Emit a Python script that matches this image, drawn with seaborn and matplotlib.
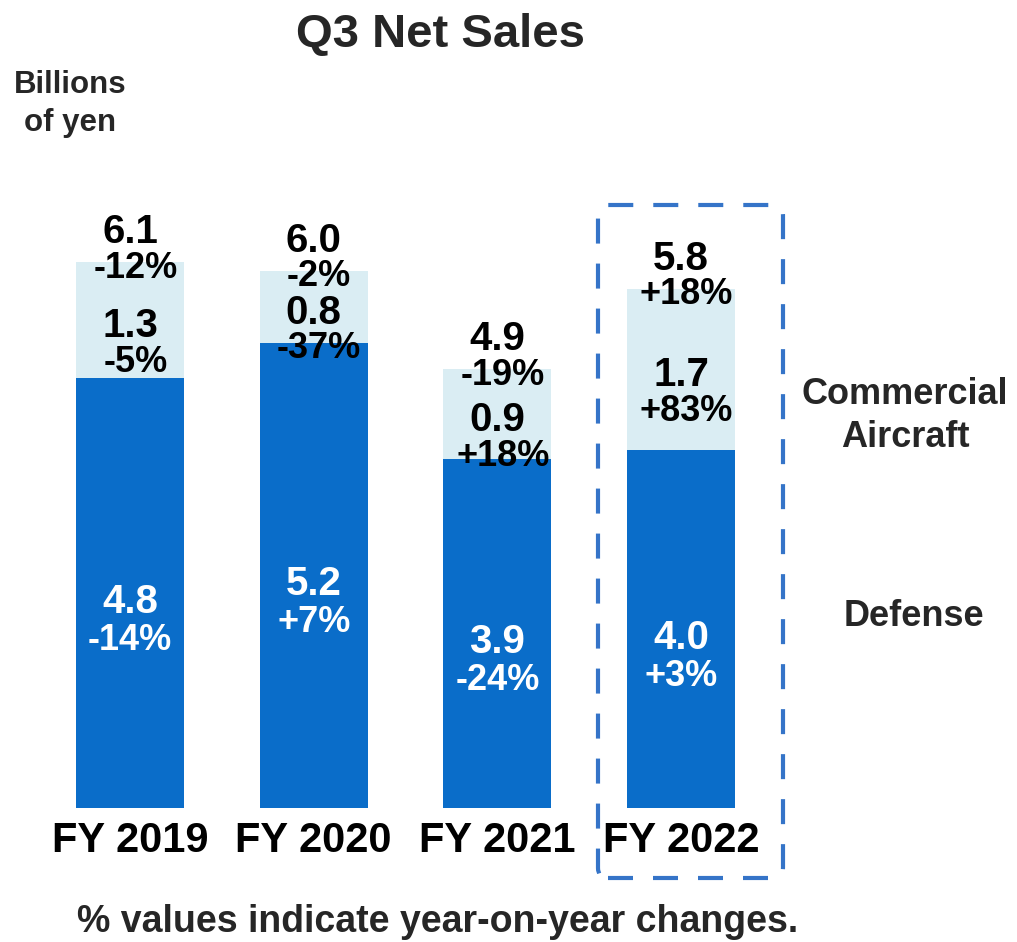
import matplotlib
matplotlib.use("Agg")
import matplotlib.pyplot as plt
from matplotlib.patches import FancyBboxPatch
import seaborn as sns
import pandas as pd

# Q3 net sales, billions of yen
years = ["FY 2019", "FY 2020", "FY 2021", "FY 2022"]
defense = [4.8, 5.2, 3.9, 4.0]
commercial = [1.3, 0.8, 0.9, 1.7]
total = [6.1, 6.0, 4.9, 5.8]
defense_yoy = ["-14%", "+7%", "-24%", "+3%"]
commercial_yoy = ["-5%", "-37%", "+18%", "+83%"]
total_yoy = ["-12%", "-2%", "-19%", "+18%"]

DARK = "#0A6DC9"
LIGHT = "#DAEDF3"
BOX = "#3574C8"
INK = "#262626"

sns.set_theme(style="white")
plt.rcParams["font.family"] = ["Liberation Sans", "DejaVu Sans"]
plt.rcParams["font.weight"] = "bold"

W, H = 1017, 942
fig = plt.figure(figsize=(W / 100, H / 100), dpi=100)

# axes: baseline 808 px from top, 89.5 px per billion yen, bar pitch ~183.7 px
base_px, unit_px, pitch_px, x0_px = 808, 89.5, 183.7, 130
ax = fig.add_axes([0, (H - base_px) / H, 1, base_px / H])

df = pd.DataFrame({"year": years, "defense": defense, "total": total})
sns.barplot(data=df, x="year", y="total", color=LIGHT, saturation=1,
            width=0.588, ax=ax, linewidth=0)
sns.barplot(data=df, x="year", y="defense", color=DARK, saturation=1,
            width=0.588, ax=ax, linewidth=0)
ax.set_xlim(-x0_px / pitch_px, (W - x0_px) / pitch_px)
ax.set_ylim(0, base_px / unit_px)
ax.axis("off")

px = 1 / unit_px  # one pixel in data units
val_fs, pct_fs = 29, 26
for i in range(len(years)):
    top = total[i]
    # total on top of the stack
    ax.text(i, top + 30 * px, f"{total[i]:.1f}", ha="center", va="center",
            fontsize=val_fs, fontweight="bold", color="black")
    ax.text(i + 0.03, top - 6 * px, total_yoy[i], ha="center", va="center",
            fontsize=pct_fs, fontweight="bold", color="black")
    # commercial aircraft segment
    mid_c = (defense[i] + total[i]) / 2
    ax.text(i, mid_c - 6 * px, f"{commercial[i]:.1f}", ha="center", va="center",
            fontsize=val_fs, fontweight="bold", color="black")
    ax.text(i + 0.03, mid_c - 42 * px, commercial_yoy[i], ha="center", va="center",
            fontsize=pct_fs, fontweight="bold", color="black")
    # defense segment
    mid_d = defense[i] / 2
    ax.text(i, mid_d - 9 * px, f"{defense[i]:.1f}", ha="center", va="center",
            fontsize=val_fs, fontweight="bold", color="white")
    ax.text(i, mid_d - 47 * px, defense_yoy[i], ha="center", va="center",
            fontsize=pct_fs, fontweight="bold", color="white")
    # category label under the bar
    ax.text(i, -33 * px, years[i], ha="center", va="center",
            fontsize=30, fontweight="bold", color="black")

def fpos(x, y):
    return x / W, 1 - y / H

fig.text(*fpos(440, 35), "Q3 Net Sales", ha="center", va="center",
         fontsize=34, fontweight="bold", color=INK)
fig.text(*fpos(70, 104), "Billions\nof yen", ha="center", va="center",
         fontsize=22.5, fontweight="bold", color=INK, linespacing=1.35)
fig.text(*fpos(905, 416), "Commercial\nAircraft", ha="center", va="center",
         fontsize=26, fontweight="bold", color=INK, linespacing=1.3)
fig.text(*fpos(914, 616), "Defense", ha="center", va="center",
         fontsize=26, fontweight="bold", color=INK)
fig.text(*fpos(438, 922), "% values indicate year-on-year changes.",
         ha="center", va="center", fontsize=27, fontweight="bold", color=INK)

# dashed highlight around the latest year
box = FancyBboxPatch((6.08, 0.74), 1.65, 6.53,
                     boxstyle="round,pad=0.1,rounding_size=0.1",
                     transform=fig.dpi_scale_trans, fill=False,
                     edgecolor=BOX, linewidth=3, linestyle=(0, (6, 4.8)))
fig.patches.append(box)

fig.savefig("out.png", dpi=100)
